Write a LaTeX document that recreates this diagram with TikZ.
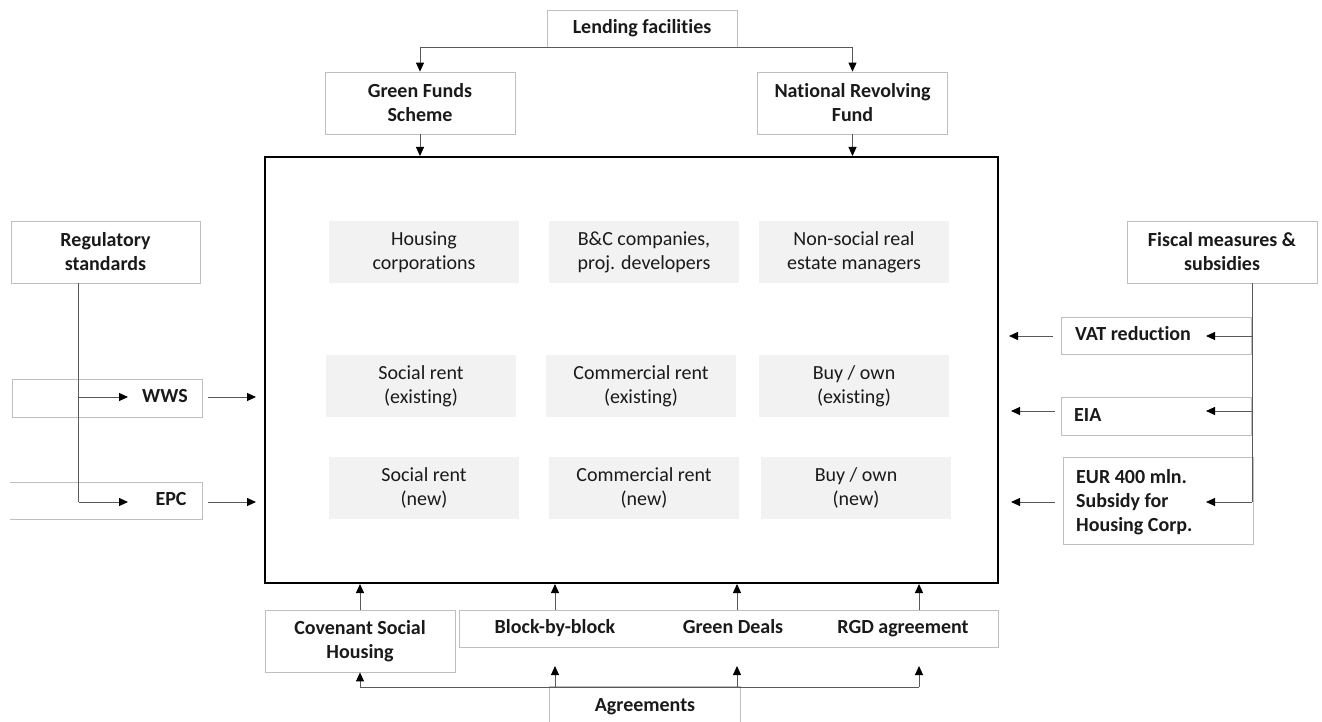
\documentclass[tikz,border=0pt]{standalone}
\usepackage{fontspec}
\setmainfont{Carlito}[Ligatures=NoCommon]
\usetikzlibrary{arrows.meta,calc}
\definecolor{boxgray}{HTML}{BFBFBF}
\definecolor{conncol}{HTML}{595959}
\definecolor{greyfill}{HTML}{F2F2F2}
\definecolor{txt}{HTML}{1A1A1A}
\begin{document}
\begin{tikzpicture}[x=1pt,y=-1pt,
  every node/.style={font=\fontsize{20pt}{24pt}\selectfont, text=txt, inner sep=0pt},
  obox/.style={draw=boxgray, line width=0.8pt, fill=white, minimum width=190pt, minimum height=62pt, align=center, font=\fontsize{20pt}{24pt}\selectfont\bfseries},
  gbox/.style={fill=greyfill, minimum width=190pt, minimum height=62pt, align=center},
  lbl/.style={font=\fontsize{20pt}{24pt}\selectfont\bfseries, align=left, text height=14pt, text depth=5pt},
  boxline/.style={draw=boxgray, line width=0.8pt},
  conn/.style={draw=conncol, line width=0.9pt},
  arr/.style={conn, -{Triangle[length=9pt,width=8pt,color=black]}},
]
\useasboundingbox (0,0) rectangle (1322,722);
\fill[white] (0,0) rectangle (1322,722);

% main box
\node[draw=black, line width=2pt, minimum width=733pt, minimum height=426pt] (main) at (631.5,370) {};

% top
\node[obox, minimum height=37pt] (lend) at (642,28.5) {Lending facilities};
\node[obox] (gfs) at (420,103) {Green Funds\\Scheme};
\node[obox] (nrf) at (852.5,103) {National Revolving\\Fund};
\draw[arr] (lend.south) -| (gfs.north);
\draw[arr] (lend.south) -| (nrf.north);
\draw[arr] (gfs.south) -- (gfs.south |- main.north);
\draw[arr] (nrf.south) -- (nrf.south |- main.north);

% grey boxes
\node[gbox] (hc) at (424,252) {Housing\\corporations};
\node[gbox] (bc) at (644,252) {B\&C companies,\\proj. developers};
\node[gbox] (ns) at (854,252) {Non-social real\\estate managers};
\node[gbox] (sre) at (421,386) {Social rent\\(existing)};
\node[gbox] (cre) at (641,386) {Commercial rent\\(existing)};
\node[gbox] (boe) at (854,386) {Buy / own\\(existing)};
\node[gbox] (srn) at (424,488) {Social rent\\(new)};
\node[gbox] (crn) at (644,488) {Commercial rent\\(new)};
\node[gbox] (bon) at (856,488) {Buy / own\\(new)};

% left
\node[obox, minimum width=189pt] (reg) at (105.5,252) {Regulatory\\standards};
\node[obox, minimum height=38pt] (wws) at (107,398) {};
\node[lbl] (wwst) at (165,398) {WWS};
\node[minimum width=192pt, minimum height=36pt] (epc) at (106,501) {};
\draw[boxline] (epc.north west) -- (epc.north east) -- (epc.south east) -- (epc.south west);
\node[lbl] (epct) at (171,501) {EPC};
\coordinate (rb) at ($(reg.south west)!0.36!(reg.south east)$);
\coordinate (wwsin) at (128,397);
\coordinate (epcin) at (128,502);
\draw[conn] (rb) -- (rb |- epcin);
\draw[arr] (rb |- wwsin) -- (wwsin);
\draw[arr] (rb |- epcin) -- (epcin);
\draw[arr] ($(wws.east |- wwsin)+(6,0)$) -- ($(main.west |- wwsin)+(-8,0)$);
\draw[arr] ($(epc.east |- epcin)+(6,0)$) -- ($(main.west |- epcin)+(-8,0)$);

% right
\node[obox] (fis) at (1222,252) {Fiscal measures \&\\subsidies};
\node[obox, minimum height=37pt] (vat) at (1156,335.5) {};
\node[lbl] (vatt) at (1133,336) {VAT reduction};
\node[obox, minimum height=38pt] (eia) at (1156,416) {};
\node[lbl, anchor=west] (eiat) at (1074,417) {EIA};
\node[obox, minimum height=87pt] (eur) at (1158,500.5) {};
\node[anchor=west, align=left, font=\fontsize{20pt}{24pt}\selectfont\bfseries] (eurt) at (1076,502) {EUR 400 mln.\\Subsidy for\\Housing Corp.};
\coordinate (fb) at ($(fis.south west)!0.658!(fis.south east)$);
\coordinate (vatin) at (1206,336);
\coordinate (eiain) at (1206,411);
\coordinate (eurin) at (1206,502);
\draw[conn] (fb) -- (fb |- eurin);
\draw[arr] (fb |- vatin) -- (vatin);
\draw[arr] (fb |- eiain) -- (eiain);
\draw[arr] (fb |- eurin) -- (eurin);
\draw[arr] ($(vat.west |- vatin)+(-8,0)$) -- ($(main.east |- vatin)+(10,0)$);
\draw[arr] ($(eia.west |- eiain)+(-6,0)$) -- ($(main.east |- eiain)+(12,0)$);
\draw[arr] ($(eur.west |- eurin)+(-8,0)$) -- ($(main.east |- eurin)+(12,0)$);

% bottom
\node[obox] (cov) at (360,641) {Covenant Social\\Housing};
\node[obox, minimum width=539pt, minimum height=37pt] (agb) at (728.5,628.5) {};
\node[lbl] (bbb) at (555,629) {Block-by-block};
\node[lbl] (gd) at (733,629) {Green Deals};
\node[lbl] (rgd) at (903,629) {RGD agreement};
\node[minimum width=190pt, minimum height=46pt] (agrb) at (645,710) {};
\draw[boxline] (agrb.south west) -- (agrb.north west) -- (agrb.north east) -- (agrb.south east);
\node[lbl] (agr) at (645,707) {Agreements};
\coordinate (gdx) at (737,610);
\coordinate (rgx) at (919,610);
\coordinate (hl) at (361,687);
\coordinate (tipy) at (0,666);
\draw[arr] (cov.north) -- (cov.north |- main.south);
\draw[arr] (bbb |- agb.north) -- (bbb |- main.south);
\draw[arr] (gdx) -- (gdx |- main.south);
\draw[arr] (rgx) -- (rgx |- main.south);
\draw[conn] (cov.south |- hl) -- (rgx |- hl);
\draw[arr] (cov.south |- hl) -- (cov.south);
\draw[arr] (bbb |- hl) -- (bbb |- tipy);
\draw[arr] (gdx |- hl) -- (gdx |- tipy);
\draw[arr] (rgx |- hl) -- (rgx |- tipy);
\end{tikzpicture}
\end{document}
